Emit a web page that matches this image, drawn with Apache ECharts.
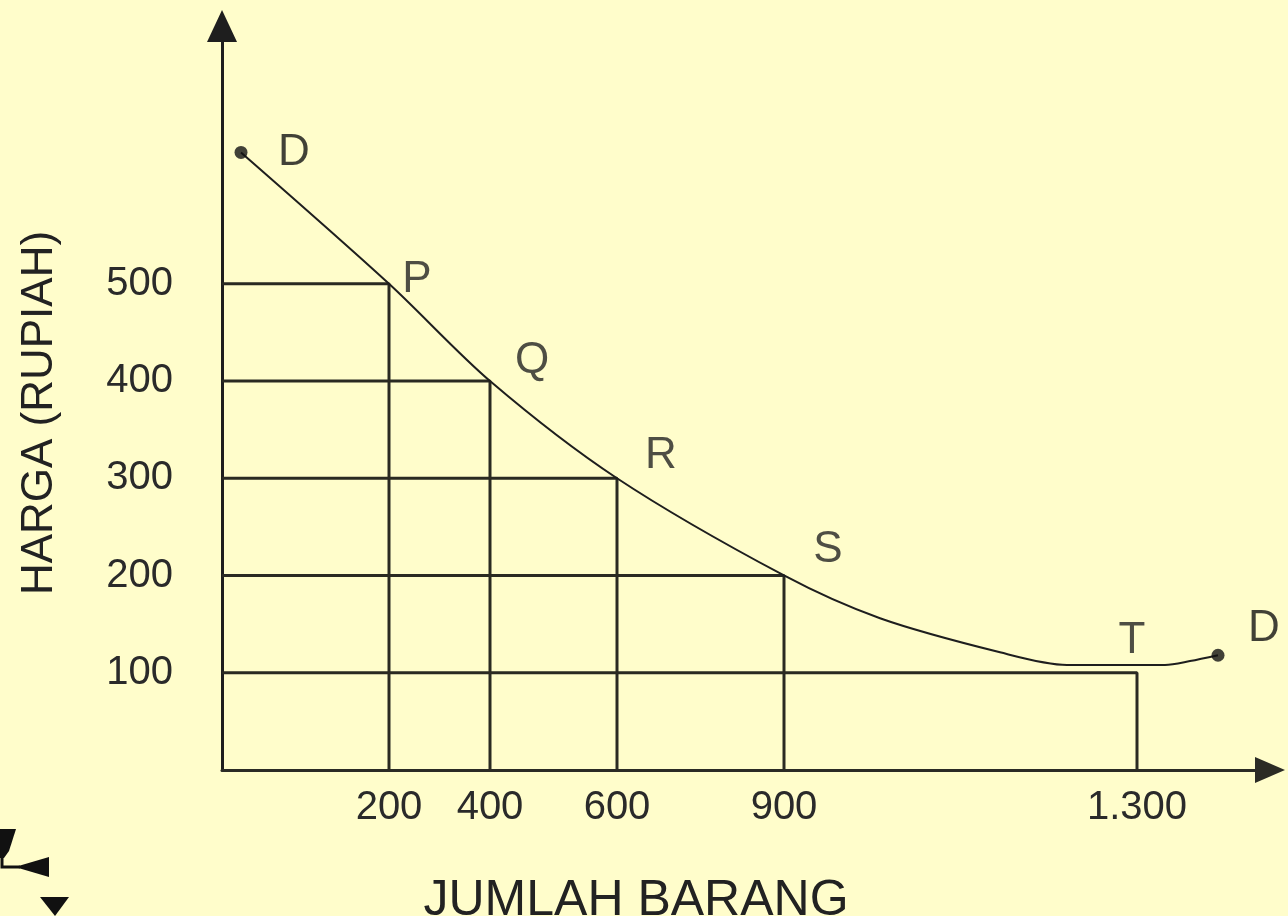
<!DOCTYPE html>
<html>
<head>
<meta charset="utf-8">
<script src="https://cdn.jsdelivr.net/npm/echarts@6/dist/echarts.min.js"></script>
<style>
html,body{margin:0;padding:0;background:#FFFDCB;}
#chart{width:1288px;height:916px;}
</style>
</head>
<body>
<div id="chart"></div>
<script>
// Quantity tick labels and where each sits along the drawn (non-linear) quantity axis
var qtyLabels = ['200', '400', '600', '900', '1.300'];
var qtyAxisPos = [167, 268, 395, 562, 915];
// Price levels (Rupiah) belonging to each point
var priceLevels = [500, 400, 300, 200, 100];
var pointNames = ['P', 'Q', 'R', 'S', 'T'];
var priceTicks = [100, 200, 300, 400, 500];
// Demand curve D-D (axis position, price)
var curvePos =   [19, 167, 268, 395, 562, 658, 778, 845, 943, 968, 996];
var curvePrice = [635, 500, 400, 300, 200, 156, 121, 108, 108, 112, 118];
// Point-label positions on curve
var labelPrice = [500, 400, 300, 200, 108];
var endNames = ['D', 'D'];

var chart = echarts.init(document.getElementById('chart'));
var ink = '#1e1e1e';
var font = 'Liberation Sans, Arial, sans-serif';

var series = [];
// Guide lines: horizontal from price axis to point, then down to quantity axis
for (var i = 0; i < qtyAxisPos.length; i++) {
  series.push({
    type: 'line',
    data: [[0, priceLevels[i]], [qtyAxisPos[i], priceLevels[i]], [qtyAxisPos[i], 0]],
    symbol: 'none',
    lineStyle: {color: '#2a2a22', width: 3},
    silent: true,
    z: 2
  });
}
// Demand curve
var curve = [];
for (var j = 0; j < curvePos.length; j++) curve.push([curvePos[j], curvePrice[j]]);
series.push({
  type: 'line',
  data: curve,
  smooth: 0.3,
  symbol: 'none',
  lineStyle: {color: ink, width: 2},
  z: 3
});
// Curve end dots labelled D
series.push({
  type: 'scatter',
  data: [
    {value: [curvePos[0], curvePrice[0]], name: endNames[0], label: {offset: [53, 0]}},
    {value: [curvePos[curvePos.length - 1], curvePrice[curvePrice.length - 1]], name: endNames[1], label: {offset: [46, -26]}}
  ],
  symbol: 'circle',
  symbolSize: 13,
  itemStyle: {color: '#111'},
  label: {show: true, formatter: '{b}', fontSize: 44, fontFamily: font, color: '#111', position: 'inside'},
  z: 5
});
// Point labels P Q R S T
var ptData = [];
var offsets = [[28, -4], [42, -20], [44, -22], [44, -26], [-5, -24]];
for (var k = 0; k < pointNames.length; k++) {
  ptData.push({value: [qtyAxisPos[k], labelPrice[k]], name: pointNames[k], label: {offset: offsets[k]}});
}
series.push({
  type: 'scatter',
  data: ptData,
  symbolSize: 0,
  label: {show: true, formatter: '{b}', fontSize: 44, fontFamily: font, color: '#222', position: 'inside'},
  z: 5
});

chart.setOption({
  backgroundColor: '#FFFDCB',
  animation: false,
  grid: {left: 222, right: 18, top: 26, bottom: 146, outerBoundsMode: 'none', containLabel: false},
  graphic: [
    {type: 'polygon', shape: {points: [[0, 829], [16, 829], [9, 851], [4, 858], [0, 858]]}, style: {fill: '#111'}},
    {type: 'polyline', shape: {points: [[2, 850], [2, 867], [20, 867]]}, style: {stroke: '#111', lineWidth: 3, fill: null}},
    {type: 'polygon', shape: {points: [[15, 867], [49, 857], [49, 877]]}, style: {fill: '#111'}},
    {type: 'polygon', shape: {points: [[40, 897], [69, 897], [55, 916]]}, style: {fill: '#111'}}
  ],
  xAxis: {
    type: 'value',
    min: 0,
    max: 1048,
    name: 'JUMLAH BARANG',
    nameLocation: 'middle',
    nameGap: 106,
    nameTextStyle: {fontSize: 50, fontFamily: font, color: '#222', padding: [0, 220, 0, 0]},
    splitLine: {show: false},
    axisTick: {show: false},
    axisLine: {show: true, lineStyle: {color: '#2b2b25', width: 3}, symbol: ['none', 'triangle'], symbolSize: [26, 30]},
    axisLabel: {
      customValues: qtyAxisPos,
      margin: 18,
      fontSize: 40,
      fontFamily: font,
      color: '#2a2a2a',
      formatter: function (v) {
        var idx = qtyAxisPos.indexOf(v);
        return idx >= 0 ? qtyLabels[idx] : '';
      }
    }
  },
  yAxis: {
    type: 'value',
    min: 0,
    max: 765,
    interval: 100,
    name: 'HARGA (RUPIAH)',
    nameLocation: 'middle',
    nameRotate: 90,
    nameGap: 160,
    nameTextStyle: {fontSize: 44, fontFamily: font, color: '#222', padding: [0, 0, 0, -30]},
    splitLine: {show: false},
    axisTick: {show: false},
    axisLine: {show: true, lineStyle: {color: '#1e1e1e', width: 3}, symbol: ['none', 'triangle'], symbolSize: [30, 32]},
    axisLabel: {
      customValues: priceTicks,
      margin: 49,
      fontSize: 40,
      fontFamily: font,
      color: '#2a2a2a'
    }
  },
  series: series
});
</script>
</body>
</html>
